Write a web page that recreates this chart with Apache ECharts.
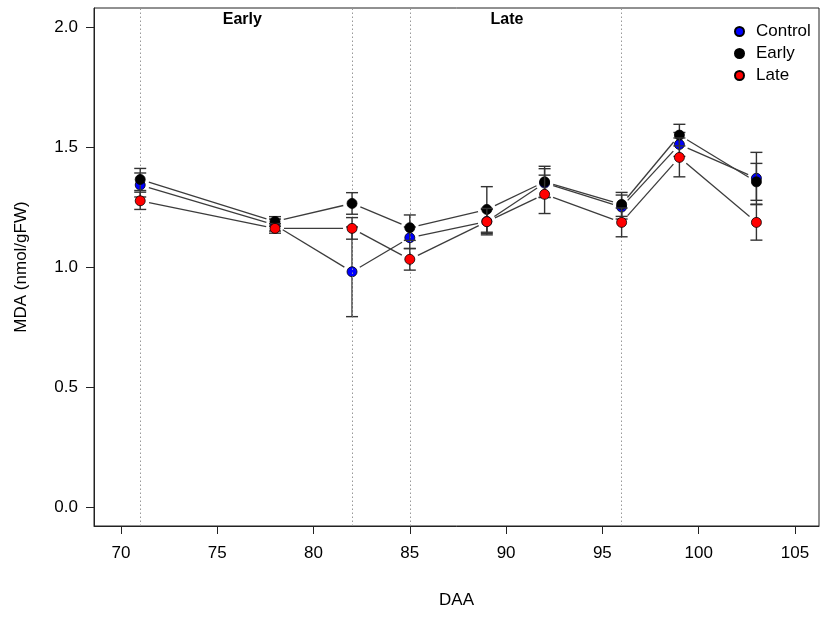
<!DOCTYPE html>
<html lang="en">
  <head>
    <meta charset="UTF-8" />
    <title>MDA</title>
    <style>
      html, body { margin: 0; padding: 0; background: #fff; }
      #chart { width: 822px; height: 618px; }
    </style>
  </head>
  <body>
    <div id="chart"></div>
  </body>
  <script src="https://cdn.jsdelivr.net/npm/echarts@6/dist/echarts.min.js"></script>
  <script>
    // sampling days
    const daa = [71, 78, 82, 85, 89, 92, 96, 99, 103]
    // mean MDA per treatment
    const control = [1.342, 1.175, 0.98, 1.122, 1.19, 1.35, 1.25, 1.511, 1.37]
    const early = [1.365, 1.19, 1.265, 1.164, 1.24, 1.355, 1.261, 1.55, 1.355]
    const late = [1.276, 1.161, 1.161, 1.032, 1.189, 1.303, 1.186, 1.457, 1.186]
    // error (half length of bar)
    const controlErr = [0.05, 0.025, 0.187, 0.045, 0.05, 0.06, 0.05, 0.05, 0.108]
    const earlyErr = [0.046, 0.02, 0.045, 0.053, 0.095, 0.065, 0.05, 0.045, 0.077]
    const lateErr = [0.036, 0.02, 0.045, 0.045, 0.055, 0.08, 0.06, 0.081, 0.074]
    // stress periods
    const periodLines = [71, 82, 85, 96]
    const periodNames = ['Early', 'Late']
    const periodLabelX = [76.3, 90.05]
    const periodLabelY = 2.03
    const xTicks = [70, 75, 80, 85, 90, 95, 100, 105]
    const yTicks = [0, 0.5, 1, 1.5, 2]

    const font = 'Liberation Sans, Arial, Helvetica, sans-serif'
    const groups = [
      { name: 'Control', mean: control, err: controlErr, color: '#0000ff' },
      { name: 'Early', mean: early, err: earlyErr, color: '#000000' },
      { name: 'Late', mean: late, err: lateErr, color: '#ff0000' }
    ]

    // line segments with a gap round each point (like R type = "b")
    function segmentRender(params, api) {
      const p1 = api.coord([api.value(0), api.value(1)])
      const p2 = api.coord([api.value(2), api.value(3)])
      const dx = p2[0] - p1[0]
      const dy = p2[1] - p1[1]
      const len = Math.sqrt(dx * dx + dy * dy)
      const gap = 9
      if (len <= gap * 2) return null
      const ux = dx / len
      const uy = dy / len
      return {
        type: 'line',
        shape: {
          x1: p1[0] + ux * gap,
          y1: p1[1] + uy * gap,
          x2: p2[0] - ux * gap,
          y2: p2[1] - uy * gap
        },
        style: { stroke: '#3c3c3c', lineWidth: 1.3 }
      }
    }

    function errorRender(params, api) {
      const x = api.value(0)
      const lo = api.coord([x, api.value(1)])
      const hi = api.coord([x, api.value(2)])
      const w = 6
      const st = { stroke: '#333', lineWidth: 1.4 }
      return {
        type: 'group',
        children: [
          { type: 'line', shape: { x1: lo[0], y1: lo[1], x2: hi[0], y2: hi[1] }, style: st },
          { type: 'line', shape: { x1: lo[0] - w, y1: lo[1], x2: lo[0] + w, y2: lo[1] }, style: st },
          { type: 'line', shape: { x1: hi[0] - w, y1: hi[1], x2: hi[0] + w, y2: hi[1] }, style: st }
        ]
      }
    }

    let series = []
    groups.forEach((g, gi) => {
      let segs = []
      for (let i = 0; i < daa.length - 1; i++)
        segs.push([daa[i], g.mean[i], daa[i + 1], g.mean[i + 1]])
      series.push({
        name: g.name + ' line',
        type: 'custom',
        renderItem: segmentRender,
        data: segs,
        z: 2,
        silent: true
      })
    })
    groups.forEach((g, gi) => {
      series.push({
        name: g.name + ' err',
        type: 'custom',
        renderItem: errorRender,
        data: daa.map((d, i) => [d, g.mean[i] - g.err[i], g.mean[i] + g.err[i]]),
        z: 3 + gi * 2,
        silent: true
      })
      series.push({
        name: g.name,
        type: 'scatter',
        data: daa.map((d, i) => [d, g.mean[i]]),
        symbol: 'circle',
        symbolSize: 10,
        itemStyle: { color: g.color, borderColor: '#000', borderWidth: 0.8, opacity: 1 },
        z: 4 + gi * 2
      })
    })
    // dotted period boundaries
    series.push({
      name: 'periods',
      type: 'scatter',
      data: [],
      markLine: {
        silent: true,
        symbol: ['none', 'none'],
        label: { show: false },
        lineStyle: { color: '#999', type: [1.5, 2.5], width: 1 },
        data: periodLines.map(v => ({ xAxis: v }))
      },
      z: 1
    })
    // period labels
    series.push({
      name: 'period labels',
      type: 'scatter',
      symbolSize: 0,
      data: periodNames.map((n, i) => ({ value: [periodLabelX[i], periodLabelY], name: n })),
      label: {
        show: true,
        position: 'inside',
        formatter: '{b}',
        color: '#000',
        fontWeight: 'bold',
        fontSize: 16,
        fontFamily: font
      },
      itemStyle: { opacity: 1 },
      silent: true,
      z: 10
    })

    const chart = echarts.init(document.getElementById('chart'))
    chart.setOption({
      animation: false,
      backgroundColor: '#fff',
      grid: {
        left: 94,
        right: 3,
        top: 8,
        bottom: 92,
        show: true,
        borderColor: '#222',
        borderWidth: 1
      },
      legend: {
        data: groups.map(g => g.name),
        orient: 'vertical',
        left: 729,
        top: 18,
        itemWidth: 9,
        itemHeight: 9,
        itemGap: 5,
        icon: 'circle',
        textStyle: {
          fontSize: 17,
          fontFamily: font,
          color: '#000',
          lineHeight: 15,
          padding: [0, 0, 0, 7]
        }
      },
      xAxis: {
        type: 'value',
        min: 68.6,
        max: 106.25,
        name: 'DAA',
        nameLocation: 'middle',
        nameGap: 66,
        nameTextStyle: { fontSize: 17, fontFamily: font, color: '#000' },
        axisLine: { show: true, onZero: false, lineStyle: { color: '#222' } },
        axisTick: { show: true, length: 8, customValues: xTicks, lineStyle: { color: '#222' } },
        axisLabel: {
          customValues: xTicks,
          margin: 19,
          fontSize: 17,
          fontFamily: font,
          color: '#000'
        },
        splitLine: { show: false }
      },
      yAxis: {
        type: 'value',
        min: -0.08,
        max: 2.08,
        name: 'MDA (nmol/gFW)',
        nameLocation: 'middle',
        nameGap: 64,
        nameTextStyle: { fontSize: 17, fontFamily: font, color: '#000' },
        axisLine: { show: true, onZero: false, lineStyle: { color: '#222' } },
        axisTick: { show: true, length: 8, customValues: yTicks, lineStyle: { color: '#222' } },
        axisLabel: {
          customValues: yTicks,
          margin: 16,
          fontSize: 17,
          fontFamily: font,
          color: '#000',
          formatter: v => v.toFixed(1)
        },
        splitLine: { show: false }
      },
      series: series
    })
  </script>
</html>
